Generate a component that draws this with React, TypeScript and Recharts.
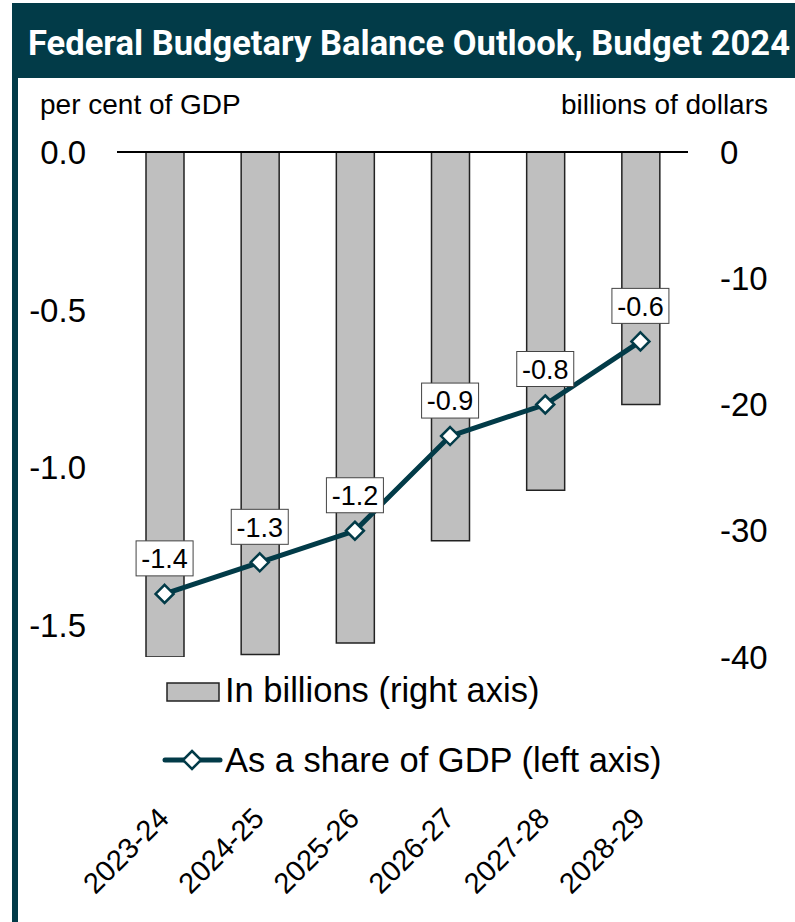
import React from 'react';
import {
  ComposedChart,
  Bar,
  Line,
  XAxis,
  YAxis,
  ReferenceLine,
  LabelList,
  Legend,
} from 'recharts';

const years = ['2023-24', '2024-25', '2025-26', '2026-27', '2027-28', '2028-29'];
const billions = [-40.0, -39.8, -38.9, -30.8, -26.8, -20.0];
const shareOfGdp = [-1.4, -1.3, -1.2, -0.9, -0.8, -0.6];
const leftTicks = [0, -0.5, -1.0, -1.5];
const rightTicks = [0, -10, -20, -30, -40];

const TEAL = '#023B48';
const FONT = '"Liberation Sans", Arial, sans-serif';

const data = years.map((y, i) => ({ year: y, billions: billions[i], share: shareOfGdp[i] }));

const Diamond = (props: any) => {
  const { cx, cy } = props;
  if (cx == null || cy == null) return null;
  const r = 9;
  return (
    <path
      d={`M${cx},${cy - r} L${cx + r},${cy} L${cx},${cy + r} L${cx - r},${cy} Z`}
      fill="#fff"
      stroke={TEAL}
      strokeWidth={2.5}
    />
  );
};

const BoxLabel = (props: any) => {
  const { x, y, value } = props;
  const w = 57;
  const h = 35;
  const bottom = y - 18;
  return (
    <g>
      <rect x={x - w / 2} y={bottom - h} width={w} height={h} fill="#fff" stroke="#444" strokeWidth={1} />
      <text
        x={x}
        y={bottom - h / 2}
        dy="0.36em"
        textAnchor="middle"
        fontFamily={FONT}
        fontSize={27}
        fill="#000"
      >
        {Number(value).toFixed(1)}
      </text>
    </g>
  );
};

const XTick = (props: any) => {
  const { x, y, payload } = props;
  const ax = x + 6;
  const ay = y + 163;
  return (
    <text
      x={ax}
      y={ay}
      textAnchor="end"
      transform={`rotate(-45 ${ax} ${ay})`}
      fontFamily={FONT}
      fontSize={29}
      fill="#000"
    >
      {payload.value}
    </text>
  );
};

const legendText: React.CSSProperties = {
  position: 'absolute',
  left: 225,
  height: 40,
  lineHeight: '40px',
  fontFamily: FONT,
  fontSize: 34.5,
  color: '#000',
  whiteSpace: 'nowrap',
};

const LegendContent = () => (
  <div style={{ position: 'relative', width: 795, height: 922, pointerEvents: 'none' }}>
    <svg style={{ position: 'absolute', left: 160, top: 676 }} width={64} height={100}>
      <rect x={7} y={7} width={52} height={18} fill="#BFBFBF" stroke="#222" strokeWidth={1.5} />
      <line x1={5} y1={84} x2={60} y2={84} stroke={TEAL} strokeWidth={5} strokeLinecap="round" />
      <path d="M32,75 L41,84 L32,93 L23,84 Z" fill="#fff" stroke={TEAL} strokeWidth={2.5} />
    </svg>
    <div style={{ ...legendText, top: 670 }}>In billions (right axis)</div>
    <div style={{ ...legendText, top: 740 }}>As a share of GDP (left axis)</div>
  </div>
);

export default function App() {
  return (
    <div
      style={{
        position: 'absolute',
        left: 0,
        top: 0,
        width: 795,
        height: 922,
        background: '#fff',
        overflow: 'hidden',
      }}
    >
      <div style={{ position: 'absolute', left: 12, top: 3, width: 783, height: 75, background: TEAL }}>
        <svg width={783} height={75} style={{ display: 'block', overflow: 'visible' }}>
          <text
            x={0}
            y={0}
            transform="translate(16 52) scale(1 1.12)"
            fontFamily='Roboto, "Liberation Sans", Arial, sans-serif'
            fontWeight={700}
            fontSize={32}
            fill="#fff"
            textLength={762}
            lengthAdjust="spacingAndGlyphs"
          >
            Federal Budgetary Balance Outlook, Budget 2024
          </text>
        </svg>
      </div>
      <div style={{ position: 'absolute', left: 12, top: 78, width: 6, height: 844, background: TEAL }} />
      <div style={{ position: 'absolute', left: 0, top: 0 }}>
        <ComposedChart
          width={795}
          height={922}
          data={data}
          margin={{ top: 152, right: 0, bottom: 0, left: 0 }}
          barSize={38}
        >
          <XAxis
            dataKey="year"
            height={265}
            axisLine={false}
            tickLine={false}
            tickSize={0}
            tickMargin={0}
            interval={0}
            tick={<XTick />}
          />
          <YAxis
            yAxisId="left"
            orientation="left"
            width={117}
            domain={[-1.6, 0]}
            ticks={leftTicks}
            allowDataOverflow
            axisLine={false}
            tickLine={false}
            tickSize={0}
            tickMargin={31}
            tickFormatter={(v: number) => v.toFixed(1)}
            tick={{ fontFamily: FONT, fontSize: 33, fill: '#000' }}
            label={{
              content: () => (
                <text x={40} y={114} fontFamily={FONT} fontSize={28} fill="#000">
                  per cent of GDP
                </text>
              ),
            }}
          />
          <YAxis
            yAxisId="right"
            orientation="right"
            width={107}
            domain={[-40, 0]}
            ticks={rightTicks}
            allowDataOverflow
            axisLine={false}
            tickLine={false}
            tickSize={0}
            tickMargin={32}
            tick={{ fontFamily: FONT, fontSize: 33, fill: '#000' }}
            label={{
              content: () => (
                <text x={768} y={114} textAnchor="end" fontFamily={FONT} fontSize={28} fill="#000">
                  billions of dollars
                </text>
              ),
            }}
          />
          <Bar
            yAxisId="right"
            dataKey="billions"
            fill="#BFBFBF"
            stroke="#222"
            strokeWidth={1.5}
            isAnimationActive={false}
          />
          <ReferenceLine yAxisId="left" y={0} stroke="#000" strokeWidth={2} />
          <Line
            yAxisId="left"
            dataKey="share"
            stroke={TEAL}
            strokeWidth={5}
            dot={<Diamond />}
            activeDot={false}
            isAnimationActive={false}
          >
            <LabelList dataKey="share" content={<BoxLabel />} />
          </Line>
          <Legend
            layout="vertical"
            align="center"
            verticalAlign="middle"
            content={<LegendContent />}
            wrapperStyle={{ top: 0, left: 0, width: 795, height: 922, pointerEvents: 'none' }}
          />
        </ComposedChart>
      </div>
    </div>
  );
}
